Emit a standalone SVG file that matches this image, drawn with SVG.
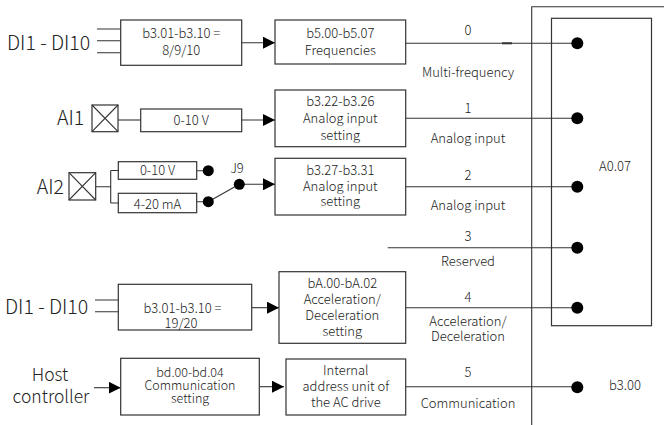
<svg xmlns="http://www.w3.org/2000/svg" width="664" height="425" viewBox="0 0 664 425">
<defs>
<marker id="arr" viewBox="0 0 12 12" refX="12" refY="6" markerWidth="12" markerHeight="12" markerUnits="userSpaceOnUse" orient="auto">
<path d="M0,0 L12,6 L0,12 z" fill="#000"/>
</marker>
<style>
text{font-family:"Noto Sans CJK SC","Noto Sans",sans-serif;fill:#222;font-weight:300;}
.b{font-size:13px;text-anchor:middle;}
.l{font-size:13px;text-anchor:middle;}
.big{font-size:19.5px;}
.host{font-size:17.5px;text-anchor:middle;}
.box{fill:#fff;stroke:#333;stroke-width:1.2;}
.ln{fill:none;stroke:#333;stroke-width:1.1;}
.dot{fill:#000;}
</style>
</defs>
<rect width="664" height="425" fill="#fff"/>
<g id="frame">
<path class="ln" d="M531.7,425 V6.7 H664"/>
<rect class="box" x="551.5" y="18.3" width="100" height="307.4" style="fill:none"/>
<text x="615" y="171.3" class="b">A0.07</text>
<text x="625" y="389.6" class="b">b3.00</text>
</g>
<g id="connectors">
<path class="ln" d="M97,29 H120.7 M97,40.7 H120.7 M97,52.7 H120.7"/>
<path class="ln" d="M241.7,42.7 H275" marker-end="url(#arr)"/>
<path class="ln" d="M118,120 H140.7"/>
<path class="ln" d="M241.7,120 H275" marker-end="url(#arr)"/>
<path class="ln" d="M95.7,186.7 H110.7 M110.7,170.5 V203 M110.7,170.5 H118.3 M110.7,203 H118.3"/>
<path class="ln" d="M196.7,170.7 H208.3 M196.7,201.7 H208.3 M208.3,201.7 L239.3,184.3"/>
<path class="ln" d="M239.3,184.3 H275" marker-end="url(#arr)"/>
<path class="ln" d="M95,300 H118.3 M95,311.7 H118.3"/>
<path class="ln" d="M251.7,307.7 H279" marker-end="url(#arr)"/>
<path class="ln" d="M94,387.7 H120.7" marker-end="url(#arr)"/>
<path class="ln" d="M255,386.7 H284" marker-end="url(#arr)"/>
<path class="ln" d="M405.7,43.3 H577.3"/>
<path d="M502,43.3 H512" stroke="#333" stroke-width="2"/>
<path class="ln" d="M405.7,118.3 H577.3"/>
<path class="ln" d="M405.7,186.7 H577.3"/>
<path class="ln" d="M387.7,247.7 H577.3"/>
<path class="ln" d="M405.7,307.7 H577.3"/>
<path class="ln" d="M405.7,386.7 H577.3"/>
<circle class="dot" cx="577.3" cy="43.3" r="6"/>
<circle class="dot" cx="577.3" cy="118.3" r="6"/>
<circle class="dot" cx="577.3" cy="186.7" r="6"/>
<circle class="dot" cx="577.3" cy="247.7" r="6"/>
<circle class="dot" cx="577.3" cy="307.7" r="6"/>
<circle class="dot" cx="577.3" cy="387.3" r="6"/>
<circle class="dot" cx="208.3" cy="170.7" r="5.5"/>
<circle class="dot" cx="208.3" cy="201.7" r="5.5"/>
<circle class="dot" cx="239.3" cy="184.3" r="5.5"/>
<text x="237" y="173" class="b">J9</text>
<text x="468" y="34.6" class="l">0</text>
<text x="468" y="77.3" class="l">Multi-frequency</text>
<text x="468" y="112.9" class="l">1</text>
<text x="468" y="142.6" class="l">Analog input</text>
<text x="468" y="179.6" class="l">2</text>
<text x="468" y="209.6" class="l">Analog input</text>
<text x="468" y="240.6" class="l">3</text>
<text x="468" y="266.3" class="l">Reserved</text>
<text x="468" y="301.6" class="l">4</text>
<text x="468" y="326.3" class="l">Acceleration/</text>
<text x="468" y="341.3" class="l">Deceleration</text>
<text x="468" y="377.3" class="l">5</text>
<text x="468" y="407.6" class="l">Communication</text>
</g>
<g id="src-di1">
<text x="7" y="49.5" class="big">DI1 - DI10</text>
</g>
<g id="n-b301a">
<rect class="box" x="120.7" y="20" width="121" height="45.3"/>
<text class="b" x="181.2" y="37.9">b3.01-b3.10 =</text>
<text class="b" x="181.2" y="54.6">8/9/10</text>
</g>
<g id="n-b500">
<rect class="box" x="275" y="20" width="130.7" height="44"/>
<text class="b" x="340.3" y="37.9">b5.00-b5.07</text>
<text class="b" x="340.3" y="54.6">Frequencies</text>
</g>
<g id="src-ai1">
<text x="57" y="125" class="big">AI1</text>
<rect class="box" x="92" y="105" width="26" height="26.7"/>
<path class="ln" d="M92,105 L118,131.7 M118,105 L92,131.7"/>
</g>
<g id="n-010a">
<rect class="box" x="140.7" y="109" width="101" height="22.7"/>
<text class="b" x="191.2" y="124.6">0-10 V</text>
</g>
<g id="n-b322">
<rect class="box" x="275" y="90" width="130.7" height="56.7"/>
<text class="b" x="340.3" y="106.3">b3.22-b3.26</text>
<text class="b" x="340.3" y="122.9">Analog input</text>
<text class="b" x="340.3" y="139.6">setting</text>
</g>
<g id="src-ai2">
<text x="36.7" y="193.5" class="big">AI2</text>
<rect class="box" x="69" y="172.7" width="26.7" height="27.3"/>
<path class="ln" d="M69,172.7 L95.7,200 M95.7,172.7 L69,200"/>
</g>
<g id="n-010b">
<rect class="box" x="118.3" y="161.7" width="78.4" height="17.6"/>
<text class="b" x="157.5" y="175.3">0-10 V</text>
</g>
<g id="n-420">
<rect class="box" x="118.3" y="193.3" width="78.4" height="19.4"/>
<text class="b" x="157.5" y="209.4">4-20 mA</text>
</g>
<g id="n-b327">
<rect class="box" x="275" y="158.3" width="130.7" height="56.7"/>
<text class="b" x="340.3" y="174.6">b3.27-b3.31</text>
<text class="b" x="340.3" y="190.6">Analog input</text>
<text class="b" x="340.3" y="206.3">setting</text>
</g>
<g id="src-di2">
<text x="5" y="313.5" class="big">DI1 - DI10</text>
</g>
<g id="n-b301b">
<rect class="box" x="118.3" y="284.3" width="133.4" height="45.7"/>
<text class="b" x="182.5" y="312.9">b3.01-b3.10 =</text>
<text class="b" x="181" y="327.9">19/20</text>
</g>
<g id="n-ba00">
<rect class="box" x="279" y="271.7" width="126.7" height="71.6"/>
<text class="b" x="342.3" y="287.9">bA.00-bA.02</text>
<text class="b" x="342.3" y="303.9">Acceleration/</text>
<text class="b" x="342.3" y="319.6">Deceleration</text>
<text class="b" x="342.3" y="336.3">setting</text>
</g>
<g id="src-host">
<text x="50" y="381" class="host">Host</text>
<text x="51" y="403" class="host">controller</text>
</g>
<g id="n-bd00">
<rect class="box" x="120.7" y="358.3" width="138.6" height="56.7"/>
<text class="b" x="190" y="377" style="font-size:12.5px">bd.00-bd.04</text>
<text class="b" x="190" y="390.3" style="font-size:12.5px">Communication</text>
<text class="b" x="190" y="402.8" style="font-size:12.5px">setting</text>
</g>
<g id="n-internal">
<rect class="box" x="286" y="359" width="119.7" height="56"/>
<text class="b" x="345.8" y="374.6">Internal</text>
<text class="b" x="345.8" y="390.6">address unit of</text>
<text class="b" x="345.8" y="407.3">the AC drive</text>
</g>
</svg>
